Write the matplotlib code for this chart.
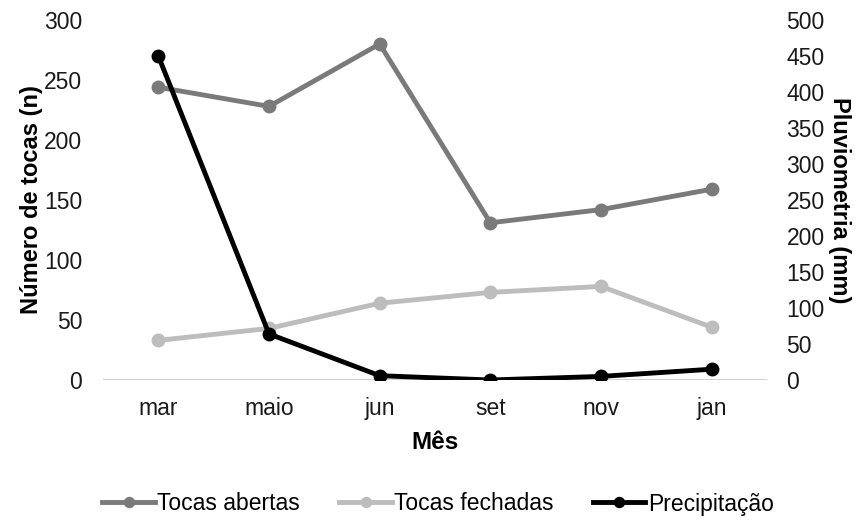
import matplotlib.pyplot as plt

plt.rcParams['font.family'] = ['Liberation Sans', 'DejaVu Sans']

meses = ['mar', 'maio', 'jun', 'set', 'nov', 'jan']
tocas_abertas = [244, 228, 280, 131, 142, 159]
tocas_fechadas = [33, 43, 64, 73, 78, 44]
precipitacao = [450, 64, 6, 0, 5, 15]

cor_abertas = '#7a7a7a'
cor_fechadas = '#bdbdbd'
cor_precip = '#000000'

fig = plt.figure(figsize=(8.59, 5.23), dpi=100)
ax = fig.add_axes([103 / 859, 1 - 380 / 523, 664 / 859, 360 / 523])
ax2 = ax.twinx()

x = range(len(meses))
l1, = ax.plot(x, tocas_abertas, '-o', color=cor_abertas, lw=3.5, ms=9,
              label='Tocas abertas', zorder=3)
l2, = ax.plot(x, tocas_fechadas, '-o', color=cor_fechadas, lw=3.5, ms=9,
              label='Tocas fechadas', zorder=3)
l3, = ax2.plot(x, precipitacao, '-o', color=cor_precip, lw=3.5, ms=9,
               label='Precipitação', zorder=3)

ax.set_xlim(-0.5, len(meses) - 0.5)
ax.set_ylim(0, 300)
ax.set_yticks(range(0, 301, 50))
ax2.set_ylim(0, 500)
ax2.set_yticks(range(0, 501, 50))

ax.set_xticks(list(x))
ax.set_xticklabels(meses)
ax.axhline(0, color='#c8c8c8', lw=1.2, zorder=1)

for a in (ax, ax2):
    for s in a.spines.values():
        s.set_visible(False)
    a.tick_params(length=0, labelsize=16.5, colors='#1a1a1a')
ax.tick_params(axis='x', pad=12)
ax.tick_params(axis='y', pad=15)
ax2.tick_params(axis='y', pad=14)

ax.set_xlabel('Mês', fontsize=17.5, fontweight='bold', labelpad=8)
ax.set_ylabel('Número de tocas (n)', fontsize=17, fontweight='bold', labelpad=1)
ax2.set_ylabel('Pluviometria (mm)', fontsize=17, fontweight='bold',
               rotation=270, labelpad=19)

fig.legend(handles=[l1, l2, l3], loc='center', bbox_to_anchor=(438 / 859, 1 - 504 / 523),
           ncol=3, frameon=False, fontsize=16.5, handlelength=2.3,
           handletextpad=0.1, columnspacing=1.7, markerscale=0.8)

fig.savefig('out.png', dpi=100)
